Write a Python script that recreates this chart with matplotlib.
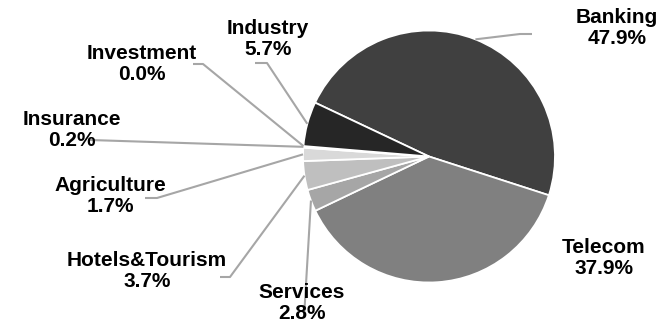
import matplotlib.pyplot as plt
import numpy as np

sectors = ["Banking", "Telecom", "Services", "Hotels&Tourism", "Agriculture",
           "Insurance", "Investment", "Industry"]
shares = [47.9, 37.9, 2.8, 3.7, 1.7, 0.2, 0.0, 5.7]
colors = ["#404040", "#808080", "#a6a6a6", "#bfbfbf", "#d9d9d9",
          "#f2f2f2", "#ffffff", "#262626"]

# label layout in pixels (x, y from top): text centre, leader elbow, leader end
W, H = 661, 323
layout = {
    "Banking":        ((617, 28), (520, 34), (532, 34)),
    "Telecom":        ((604, 258), None, None),
    "Services":       ((302, 303), (304, 318), (304, 318)),
    "Hotels&Tourism": ((147, 271), (230, 277), (220, 277)),
    "Agriculture":    ((110, 196), (157, 198), (145, 198)),
    "Insurance":      ((72, 130), (90, 140), (90, 140)),
    "Investment":     ((142, 64), (203, 64), (193, 64)),
    "Industry":       ((268, 39), (267, 63), (255, 63)),
}

plt.rcParams['font.family'] = ['Liberation Sans', 'DejaVu Sans']

fig = plt.figure(figsize=(W / 100, H / 100), dpi=100)
ax = fig.add_axes([0, 0, 1, 1])

cx, cy, r = 429, H - 156.5, 126
wedges, _ = ax.pie(shares, colors=colors, startangle=154.7, counterclock=False,
                   center=(cx, cy), radius=r,
                   wedgeprops=dict(edgecolor="white", linewidth=1.3))
ax.set_xlim(0, W)
ax.set_ylim(0, H)
ax.set_aspect("equal")
ax.axis("off")

for w, name, val in zip(wedges, sectors, shares):
    (tx, ty), elbow, end = layout[name]
    if elbow is not None:
        mid = np.deg2rad((w.theta1 + w.theta2) / 2)
        px, py = cx + r * np.cos(mid), cy + r * np.sin(mid)
        xs = [px, elbow[0], end[0]]
        ys = [py, H - elbow[1], H - end[1]]
        ax.plot(xs, ys, color="#a6a6a6", lw=1.5, zorder=1, solid_capstyle="butt")
    ax.text(tx, H - ty, f"{name}\n{val:.1f}%", ha="center", va="center",
            fontsize=15, fontweight="bold", color="black", linespacing=1.1,
            zorder=3)

fig.savefig("out.png", dpi=100)
